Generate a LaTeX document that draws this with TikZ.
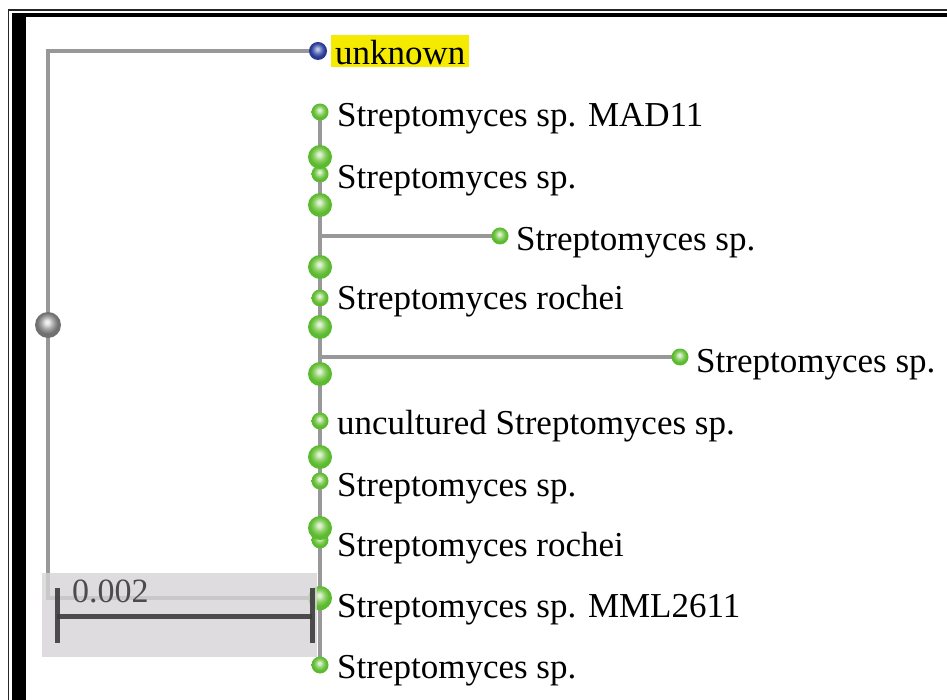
\documentclass[tikz,border=0pt]{standalone}
\usepackage{fontspec}
\setmainfont{Liberation Serif}
\usetikzlibrary{backgrounds}

\definecolor{linegray}{RGB}{152,152,152}
\definecolor{boxgray}{RGB}{214,212,214}
\definecolor{bargray}{RGB}{60,60,60}
\definecolor{hlyellow}{RGB}{245,235,0}
\definecolor{grnlight}{RGB}{225,242,214}
\definecolor{grnmid}{RGB}{140,208,100}
\definecolor{grnrim}{RGB}{92,186,48}
\definecolor{blulight}{RGB}{190,196,230}
\definecolor{blumid}{RGB}{95,110,185}
\definecolor{blurim}{RGB}{38,56,145}
\definecolor{grylight}{RGB}{240,240,240}
\definecolor{grymid}{RGB}{165,165,165}
\definecolor{gryrim}{RGB}{112,112,112}

% glossy sphere shadings (edge of the circle sits at 25bp)
\pgfdeclareradialshading{greenball}{\pgfpoint{-2bp}{6bp}}{%
  color(0bp)=(grnlight); color(3bp)=(grnlight); color(12bp)=(grnmid);
  color(20bp)=(grnrim); color(50bp)=(grnrim)}
\pgfdeclareradialshading{blueball}{\pgfpoint{-2bp}{6bp}}{%
  color(0bp)=(blulight); color(3bp)=(blulight); color(12bp)=(blumid);
  color(20bp)=(blurim); color(50bp)=(blurim)}
\pgfdeclareradialshading{grayball}{\pgfpoint{-2bp}{6bp}}{%
  color(0bp)=(grylight); color(3bp)=(grylight); color(12bp)=(grymid);
  color(20bp)=(gryrim); color(50bp)=(gryrim)}

\begin{document}
\begin{tikzpicture}[x=1pt,y=-1pt,
  branch/.style={line width=3.8pt, color=linegray},
  leafball/.style={circle, inner sep=0pt, minimum size=17pt, shading=greenball},
  innerball/.style={circle, inner sep=0pt, minimum size=24pt, shading=greenball},
  unkball/.style={circle, inner sep=0pt, minimum size=18pt, shading=blueball},
  rootball/.style={circle, inner sep=0pt, minimum size=26pt, shading=grayball},
  lab/.style={anchor=base west, inner sep=0pt, font=\fontsize{35}{40}\selectfont},
  bar/.style={line width=5pt, color=bargray, opacity=0.9},
]
\useasboundingbox (0,0) rectangle (947,700);

% frame
\draw[line width=1.6pt, black!85] (8.5,700) -- (8.5,10) -- (947,10);
\fill[black] (12,13) rectangle (947,17);
\fill[black] (12,13) rectangle (26,700);

% root and outgroup
\node[rootball] (root) at (48,325) {};
\node[unkball] (unk) at (318,51) {};

% leaves on the main clade
\node[leafball] (l1)  at (320,112) {};
\node[leafball] (l2)  at (320,174) {};
\node[leafball] (l3)  at (500,236) {};
\node[leafball] (l4)  at (320,298) {};
\node[leafball] (l5)  at (680,357) {};
\node[leafball] (l6)  at (320,421) {};
\node[leafball] (l7)  at (320,481) {};
\node[leafball] (l8)  at (320,540) {};
\node[leafball] (l9)  at (320,602) {};
\node[leafball] (l10) at (320,665) {};

% internal nodes
\node[innerball] (i1) at (320,157) {};
\node[innerball] (i2) at (320,205) {};
\node[innerball] (i3) at (320,267) {};
\node[innerball] (i4) at (320,327) {};
\node[innerball] (i5) at (320,374) {};
\node[innerball] (i6) at (320,457) {};
\node[innerball] (i7) at (320,528) {};
\node[innerball] (i8) at (320,598) {};

\coordinate (j1) at (320,236);
\coordinate (j2) at (320,357);

% branches underneath the nodes
\begin{scope}[on background layer]
  \fill[white] (0,0) rectangle (947,700);
  \draw[branch] (unk.center) -| (root.center);
  \draw[branch] (root.center) |- (i8.center);
  \draw[branch] (l1.center) -- (l10.center);
  \draw[branch] (j1) -- (l3.center);
  \draw[branch] (j2) -- (l5.center);
\end{scope}

% labels
\node[lab, fill=hlyellow, inner xsep=4pt, inner ysep=2pt, text height=28pt, text depth=0pt]
  (t0) at (331,65) {unknown};
\node[lab] (t1)  at (337,127) {Streptomyces sp. MAD11};
\node[lab] (t2)  at (337,189) {Streptomyces sp.};
\node[lab] (t3)  at (516,251) {Streptomyces sp.};
\node[lab] (t4)  at (337,310) {Streptomyces rochei};
\node[lab] (t5)  at (696,372) {Streptomyces sp.};
\node[lab] (t6)  at (337,434) {uncultured Streptomyces sp.};
\node[lab] (t7)  at (337,496) {Streptomyces sp.};
\node[lab] (t8)  at (337,556) {Streptomyces rochei};
\node[lab] (t9)  at (337,617) {Streptomyces sp. MML2611};
\node[lab] (t10) at (337,678) {Streptomyces sp.};

% scale bar
\fill[boxgray, opacity=0.8] (42,573) rectangle (317,657);
\coordinate (sL) at (57,616);
\coordinate (sR) at (312,616);
\draw[bar] (sL) -- (sR);
\draw[bar] ([yshift=28pt]sL) -- ([yshift=-27pt]sL);
\draw[bar] ([yshift=28pt]sR) -- ([yshift=-27pt]sR);
\node[lab, font=\fontsize{34}{40}\selectfont, text=black!70] (sc) at (72,602) {0.002};
\end{tikzpicture}
\end{document}
